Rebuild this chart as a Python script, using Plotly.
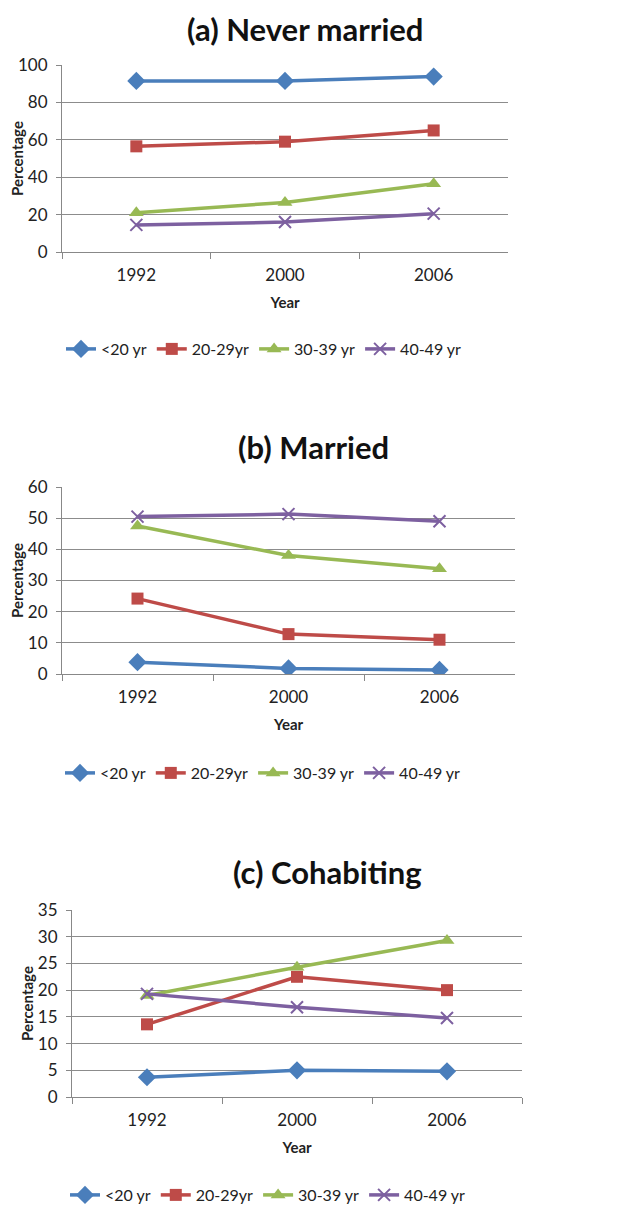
import plotly.graph_objects as go

years = ["1992", "2000", "2006"]
series_names = ["<20 yr", "20-29yr", "30-39 yr", "40-49 yr"]

never_lt20 = [91.5, 91.5, 93.8]
never_20_29 = [56.5, 59.0, 65.0]
never_30_39 = [21.0, 26.5, 36.5]
never_40_49 = [14.5, 16.0, 20.5]

married_lt20 = [3.8, 1.8, 1.3]
married_20_29 = [24.2, 12.8, 11.0]
married_30_39 = [47.5, 38.0, 33.8]
married_40_49 = [50.5, 51.3, 49.0]

cohab_lt20 = [3.7, 5.0, 4.8]
cohab_20_29 = [13.6, 22.5, 20.0]
cohab_30_39 = [19.0, 24.3, 29.3]
cohab_40_49 = [19.3, 16.8, 14.8]

panel_titles = ["(a) Never married", "(b) Married", "(c) Cohabiting"]
y_ranges = [[0, 100], [0, 60], [0, 35]]
y_dticks = [20, 10, 5]

colors = ["#4A7EBB", "#BE4B48", "#98B954", "#7D60A0"]
symbols = ["diamond", "square", "triangle-up", "x-thin"]
msizes = [14, 12, 13, 12]

panels = [
    [never_lt20, never_20_29, never_30_39, never_40_49],
    [married_lt20, married_20_29, married_30_39, married_40_49],
    [cohab_lt20, cohab_20_29, cohab_30_39, cohab_40_49],
]

# page body has an 8px default margin; compensate so the picture lines up
OFF = 8
W, H = 630 - OFF, 1207 - OFF
# pixel geometry of each plot area in the window: (left, right, top, bottom)
boxes = [(62, 508, 65, 252), (62, 515, 487, 674), (72, 522, 910, 1097)]
# top edge of each title's text box (window pixels)
title_top = [8, 426, 851]
title_x = [305, 313, 327]
legend_y = [349, 773, 1195]
legend_x = [264, 263, 268]

FONT = "Lato"
fig = go.Figure()


def px_x(v):
    return (v - OFF) / W


def px_y(v):
    return 1 - (v - OFF) / H


for p, (vals, box) in enumerate(zip(panels, boxes)):
    sfx = "" if p == 0 else str(p + 1)
    leg = "legend" if p == 0 else f"legend{p + 1}"
    for i, v in enumerate(vals):
        fig.add_trace(go.Scatter(
            x=years, y=v, name=series_names[i], mode="lines+markers",
            xaxis="x" + sfx, yaxis="y" + sfx, legend=leg,
            line=dict(color=colors[i], width=3.5),
            marker=dict(symbol=symbols[i], size=msizes[i], color=colors[i],
                        line=dict(color=colors[i], width=2 if symbols[i] == "x-thin" else 0)),
        ))
    l, r, t, b = box
    xd = [px_x(l), px_x(r)]
    yd = [px_y(b), px_y(t)]
    fig.layout["xaxis" + sfx] = dict(
        domain=xd, anchor="y" + sfx, type="category", range=[-0.5, 2.5],
        tickson="boundaries", ticks="outside", ticklen=6, tickcolor="#888888",
        showline=True, linecolor="#888888", linewidth=1, showgrid=False,
        automargin=False, ticklabelstandoff=8,
        tickfont=dict(family=FONT, size=17, color="#222222"),
        title=dict(text="<b>Year</b>", font=dict(family=FONT, size=15, color="#222222"), standoff=13),
    )
    fig.layout["yaxis" + sfx] = dict(
        domain=yd, anchor="x" + sfx, range=y_ranges[p], dtick=y_dticks[p],
        ticks="outside", ticklen=5, tickcolor="#888888",
        showline=True, linecolor="#888888", linewidth=1,
        showgrid=True, gridcolor="#8C8C8C", gridwidth=1, zeroline=False,
        automargin=False, ticklabelstandoff=5,
        tickfont=dict(family=FONT, size=17, color="#222222"),
        title=dict(text="<b>Percentage</b>", font=dict(family=FONT, size=15, color="#222222"), standoff=0),
    )
    fig.add_annotation(
        text=f"<b>{panel_titles[p]}</b>", xref="paper", yref="paper",
        x=px_x(title_x[p]), y=px_y(title_top[p]),
        xanchor="center", yanchor="top", showarrow=False,
        font=dict(family=FONT, size=31, color="#111111"),
    )
    fig.layout[leg] = dict(
        orientation="h", x=px_x(legend_x[p]), xanchor="center", y=px_y(legend_y[p]), yanchor="middle",
        font=dict(family=FONT, size=16, color="#222222"), bgcolor="rgba(0,0,0,0)",
        itemwidth=30, tracegroupgap=0,
    )

fig.update_layout(
    width=W, height=H, margin=dict(l=0, r=0, t=0, b=0, autoexpand=False),
    paper_bgcolor="white", plot_bgcolor="white", showlegend=True,
)

fig.write_html("out.html")
